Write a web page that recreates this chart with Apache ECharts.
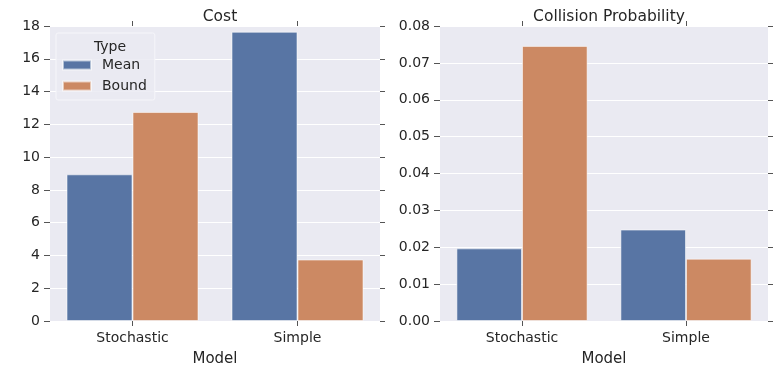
<!DOCTYPE html>
<html>
<head>
<meta charset="utf-8">
<script src="https://cdn.jsdelivr.net/npm/echarts@6/dist/echarts.min.js"></script>
<style>
  html, body { margin: 0; padding: 0; background: #ffffff; }
  #chart { width: 774px; height: 368px; }
</style>
</head>
<body>
<div id="chart"></div>
<script>
// Categories and series values
const models = ['Stochastic', 'Simple'];
const typeNames = ['Mean', 'Bound'];
const costMean = [8.95, 17.65];
const costBound = [12.75, 3.75];
const collisionMean = [0.0197, 0.0248];
const collisionBound = [0.0746, 0.0169];
const costTicks = { min: 0, max: 18, interval: 2 };
const collisionTicks = { min: 0, max: 0.08, interval: 0.01 };

const FONT = 'DejaVu Sans';
const TEXT = '#262626';
const BLUE = '#5875a4';
const ORANGE = '#cc8963';
const PANEL = '#eaeaf2';

const chart = echarts.init(document.getElementById('chart'), null, { renderer: 'canvas' });

// Axis line kept "on" but invisible so the tick marks are still emitted
const hiddenLine = { show: true, onZero: false, lineStyle: { color: 'rgba(0,0,0,0)' } };

function tickStyle(len) {
  return { show: true, inside: false, length: len, lineStyle: { color: '#555555', width: 1 } };
}

function valueAxes(gridIndex, scale, fmt) {
  return [
    {
      type: 'value', gridIndex, position: 'left',
      min: scale.min, max: scale.max, interval: scale.interval,
      axisLine: hiddenLine,
      axisTick: tickStyle(6),
      axisLabel: { color: TEXT, fontFamily: FONT, fontSize: 14, margin: 10, formatter: fmt },
      splitLine: { show: true, lineStyle: { color: '#ffffff', width: 1 } }
    },
    {
      type: 'value', gridIndex, position: 'right',
      min: scale.min, max: scale.max, interval: scale.interval,
      axisLine: hiddenLine,
      axisTick: tickStyle(5),
      axisLabel: { show: false },
      splitLine: { show: false }
    }
  ];
}

function categoryAxes(gridIndex) {
  return [
    {
      type: 'category', gridIndex, position: 'bottom', data: models,
      axisLine: hiddenLine,
      axisTick: Object.assign(tickStyle(5), { alignWithLabel: true, interval: 0 }),
      axisLabel: { color: TEXT, fontFamily: FONT, fontSize: 14, margin: 10, interval: 0 },
      name: 'Model', nameLocation: 'middle', nameGap: 31,
      nameTextStyle: { color: TEXT, fontFamily: FONT, fontSize: 15 },
      splitLine: { show: false }
    },
    {
      type: 'category', gridIndex, position: 'top', data: models,
      axisLine: hiddenLine,
      axisTick: Object.assign(tickStyle(5), { alignWithLabel: true, interval: 0 }),
      axisLabel: { show: false },
      splitLine: { show: false }
    }
  ];
}

function barSeries(name, data, color, xi, yi) {
  return {
    type: 'bar', name, data,
    xAxisIndex: xi, yAxisIndex: yi,
    barGap: '0%', barCategoryGap: '20%',
    itemStyle: { color, borderColor: 'rgba(255,255,255,0.55)', borderWidth: 1 },
    emphasis: { disabled: true }
  };
}

const option = {
  animation: false,
  backgroundColor: '#ffffff',
  title: [
    { text: 'Cost', left: 215, top: 4, textAlign: 'center',
      textStyle: { color: TEXT, fontFamily: FONT, fontSize: 15.5, fontWeight: 'normal' } },
    { text: 'Collision Probability', left: 604, top: 4, textAlign: 'center',
      textStyle: { color: TEXT, fontFamily: FONT, fontSize: 15.5, fontWeight: 'normal' } },
    { text: 'Type', left: 105, top: 35, textAlign: 'center',
      textStyle: { color: TEXT, fontFamily: FONT, fontSize: 14, fontWeight: 'normal' } }
  ],
  grid: [
    { left: 50, right: 394, top: 26, bottom: 47, outerBoundsMode: 'none', containLabel: false,
      show: true, backgroundColor: PANEL, borderWidth: 0 },
    { left: 440, right: 6, top: 26, bottom: 47, outerBoundsMode: 'none', containLabel: false,
      show: true, backgroundColor: PANEL, borderWidth: 0 }
  ],
  legend: {
    data: typeNames,
    orient: 'vertical',
    left: 56, top: 33,
    padding: [25, 8, 7, 6],
    itemWidth: 28, itemHeight: 9, itemGap: 7,
    icon: 'rect',
    backgroundColor: 'rgba(234,234,242,0.85)',
    borderColor: '#f6f6fa', borderWidth: 1, borderRadius: 2,
    textStyle: { color: TEXT, fontFamily: FONT, fontSize: 14, padding: [0, 0, 0, 6] },
    selectedMode: false
  },
  xAxis: [...categoryAxes(0), ...categoryAxes(1)],
  yAxis: [
    ...valueAxes(0, costTicks, v => String(v)),
    ...valueAxes(1, collisionTicks, v => v.toFixed(2))
  ],
  series: [
    barSeries(typeNames[0], costMean, BLUE, 0, 0),
    barSeries(typeNames[1], costBound, ORANGE, 0, 0),
    barSeries(typeNames[0], collisionMean, BLUE, 2, 2),
    barSeries(typeNames[1], collisionBound, ORANGE, 2, 2)
  ]
};

chart.setOption(option);
</script>
</body>
</html>
